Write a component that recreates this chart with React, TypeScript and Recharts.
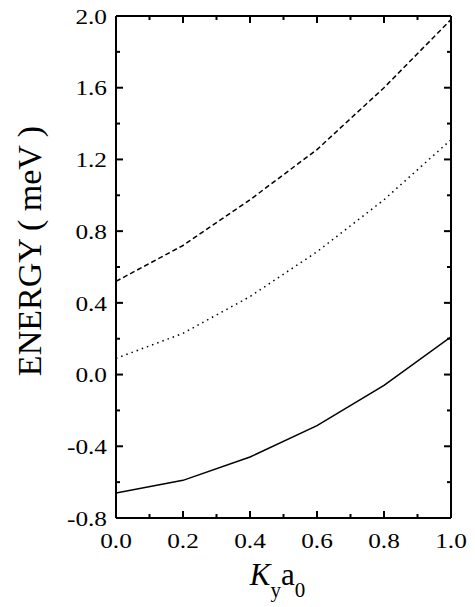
import React from 'react';
import { LineChart, Line, XAxis, YAxis } from 'recharts';

// K_y a_0 sample points
const kya = [0, 0.2, 0.4, 0.6, 0.8, 1.0];
// energies in meV
const lowerBand = [-0.66, -0.59, -0.46, -0.285, -0.06, 0.21];
const middleBand = [0.09, 0.23, 0.435, 0.685, 0.975, 1.31];
const upperBand = [0.52, 0.72, 0.975, 1.255, 1.6, 1.98];

const xTicks = [0, 0.1, 0.2, 0.3, 0.4, 0.5, 0.6, 0.7, 0.8, 0.9, 1.0];
const yTicks = [-0.8, -0.6, -0.4, -0.2, 0, 0.2, 0.4, 0.6, 0.8, 1.0, 1.2, 1.4, 1.6, 1.8, 2.0];

const data = kya.map((k, i) => ({
  k,
  lower: lowerBand[i],
  middle: middleBand[i],
  upper: upperBand[i],
}));

const FONT = "'Liberation Serif'";
const MAJOR = 7;
const MINOR = 4;
const Y_GAP = 9;
const X_GAP = 14;
const TICK_FONT = 22;
const STRETCH = 1.15;

const isMajorX = (v: number) => Math.round(v * 10) % 2 === 0;
const isMajorY = (v: number) => Math.round(v * 10) % 4 === 0;

const textStyle = { fontFamily: FONT, fill: '#000' };

const LeftTick = (props: any) => {
  const { x, y, payload } = props;
  const v = payload.value;
  const major = isMajorY(v);
  const ax = x + Y_GAP;
  return (
    <g>
      <line x1={ax} x2={ax + (major ? MAJOR : MINOR)} y1={y} y2={y} stroke="#000" strokeWidth={2} />
      {major && (
        <text
          transform={`translate(${x},${y}) scale(${STRETCH},1)`}
          x={0}
          y={0}
          dy="0.35em"
          textAnchor="end"
          style={{ ...textStyle, fontSize: TICK_FONT }}
        >
          {v.toFixed(1)}
        </text>
      )}
    </g>
  );
};

const RightTick = (props: any) => {
  const { x, y, payload } = props;
  const major = isMajorY(payload.value);
  return <line x1={x} x2={x - (major ? MAJOR : MINOR)} y1={y} y2={y} stroke="#000" strokeWidth={2} />;
};

const BottomTick = (props: any) => {
  const { x, y, payload } = props;
  const v = payload.value;
  const major = isMajorX(v);
  const ay = y - X_GAP;
  return (
    <g>
      <line x1={x} x2={x} y1={ay} y2={ay - (major ? MAJOR : MINOR)} stroke="#000" strokeWidth={2} />
      {major && (
        <text
          transform={`translate(${x},${y}) scale(${STRETCH},1)`}
          x={0}
          y={0}
          dy="0.71em"
          textAnchor="middle"
          style={{ ...textStyle, fontSize: TICK_FONT }}
        >
          {v.toFixed(1)}
        </text>
      )}
    </g>
  );
};

const TopTick = (props: any) => {
  const { x, y, payload } = props;
  const major = isMajorX(payload.value);
  return <line x1={x} x2={x} y1={y} y2={y + (major ? MAJOR : MINOR)} stroke="#000" strokeWidth={2} />;
};

const YTitle = (props: any) => {
  const { x, y, height } = props.viewBox;
  const cx = x + 29;
  const cy = y + height / 2 - 16;
  return (
    <text
      x={cx}
      y={cy}
      transform={`rotate(-90 ${cx} ${cy})`}
      textAnchor="middle"
      dominantBaseline="central"
      style={{ ...textStyle, fontSize: 34 }}
    >
      ENERGY ( meV )
    </text>
  );
};

const XTitle = (props: any) => {
  const { x, y, width } = props.viewBox;
  return (
    <text x={x + width / 2 - 6} y={y + 67} textAnchor="middle" style={{ ...textStyle, fontSize: 31 }}>
      <tspan style={{ fontStyle: 'italic' }}>K</tspan>
      <tspan style={{ fontSize: 21 }} dy={12}>y</tspan>
      <tspan dy={-12}>a</tspan>
      <tspan style={{ fontSize: 21 }} dy={12}>0</tspan>
    </text>
  );
};

const axisLine = { stroke: '#000', strokeWidth: 2 };

export default function App() {
  return (
    <div style={{ position: 'absolute', left: 0, top: 0, width: 475, height: 607, background: '#fff' }}>
      <LineChart width={475} height={607} data={data} margin={{ top: 0, right: 0, bottom: 0, left: 0 }}>
        <XAxis
          xAxisId="bottom"
          dataKey="k"
          type="number"
          domain={[0, 1]}
          ticks={xTicks}
          allowDataOverflow
          height={89}
          axisLine={axisLine}
          tickLine={false}
          tickSize={0}
          tickMargin={X_GAP}
          tick={(p: any) => <BottomTick {...p} />}
          interval={0}
          label={{ content: (p: any) => <XTitle {...p} /> }}
        />
        <XAxis
          xAxisId="top"
          orientation="top"
          dataKey="k"
          type="number"
          domain={[0, 1]}
          ticks={xTicks}
          allowDataOverflow
          height={16}
          axisLine={axisLine}
          tickLine={false}
          tickSize={0}
          tickMargin={0}
          tick={(p: any) => <TopTick {...p} />}
          interval={0}
        />
        <YAxis
          yAxisId="left"
          type="number"
          domain={[-0.8, 2]}
          ticks={yTicks}
          allowDataOverflow
          width={116}
          axisLine={axisLine}
          tickLine={false}
          tickSize={0}
          tickMargin={Y_GAP}
          tick={(p: any) => <LeftTick {...p} />}
          interval={0}
          label={{ content: (p: any) => <YTitle {...p} /> }}
        />
        <YAxis
          yAxisId="right"
          orientation="right"
          type="number"
          domain={[-0.8, 2]}
          ticks={yTicks}
          allowDataOverflow
          width={24}
          axisLine={axisLine}
          tickLine={false}
          tickSize={0}
          tickMargin={0}
          tick={(p: any) => <RightTick {...p} />}
          interval={0}
        />
        <Line
          xAxisId="bottom"
          yAxisId="left"
          type="linear"
          dataKey="lower"
          stroke="#000"
          strokeWidth={1.5}
          dot={false}
          isAnimationActive={false}
        />
        <Line
          xAxisId="bottom"
          yAxisId="left"
          type="linear"
          dataKey="middle"
          stroke="#000"
          strokeWidth={1.5}
          strokeDasharray="1.5 4"
          dot={false}
          isAnimationActive={false}
        />
        <Line
          xAxisId="top"
          yAxisId="right"
          type="linear"
          dataKey="upper"
          stroke="#000"
          strokeWidth={1.5}
          strokeDasharray="5 3"
          dot={false}
          isAnimationActive={false}
        />
      </LineChart>
    </div>
  );
}
